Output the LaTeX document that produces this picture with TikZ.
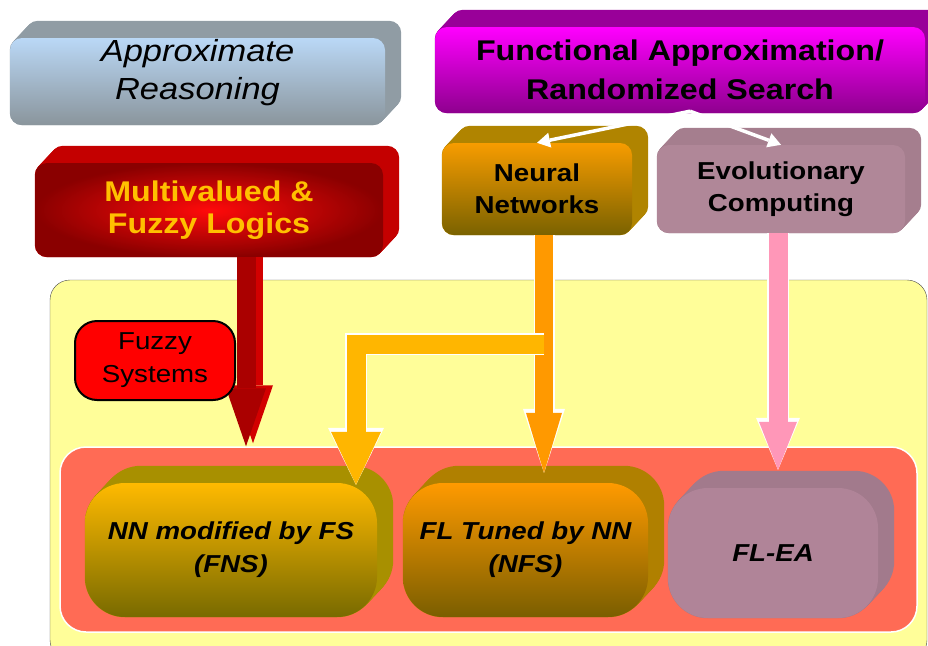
\documentclass[tikz,border=0pt]{standalone}
\usepackage{fontspec}
\setmainfont{Liberation Sans}[FakeStretch=1.13]
\usetikzlibrary{arrows.meta,calc}

% face and side colours
\definecolor{arTop}{HTML}{BAD8F6}
\definecolor{arBot}{HTML}{8A959C}
\definecolor{arExt}{HTML}{909CA4}
\definecolor{mvIn}{HTML}{FF0A0A}
\definecolor{mvOut}{HTML}{8A0000}
\definecolor{mvExt}{HTML}{C40000}
\definecolor{mvText}{HTML}{FFC000}
\definecolor{faTop}{HTML}{FF00FF}
\definecolor{faBot}{HTML}{8E008E}
\definecolor{faExt}{HTML}{990099}
\definecolor{nnTop}{HTML}{F79C00}
\definecolor{nnBot}{HTML}{7A6200}
\definecolor{nnExt}{HTML}{B08400}
\definecolor{ecFace}{HTML}{B08798}
\definecolor{ecExt}{HTML}{A57E8E}
\definecolor{hybYellow}{HTML}{FFFE99}
\definecolor{hybSalmon}{HTML}{FF6B55}
\definecolor{fnsTop}{HTML}{FFBA00}
\definecolor{fnsBot}{HTML}{786A00}
\definecolor{fnsExt}{HTML}{A89000}
\definecolor{nfsTop}{HTML}{FF9A00}
\definecolor{nfsBot}{HTML}{7A5E00}
\definecolor{nfsExt}{HTML}{B08000}
\definecolor{eaFace}{HTML}{B08498}
\definecolor{eaExt}{HTML}{A27A8C}
\definecolor{redArrow}{HTML}{AA0000}
\definecolor{redSide}{HTML}{D20000}
\definecolor{nnArrow}{HTML}{FF9900}
\definecolor{fsArrow}{HTML}{FFB600}
\definecolor{eaArrow}{HTML}{FF97B8}

\pgfdeclarelayer{bg}
\pgfdeclarelayer{ext}
\pgfsetlayers{bg,ext,main}

% extruded back of a 3D box
\newcommand{\extrude}[3]{%
  \begin{pgfonlayer}{ext}
    \foreach \k in {0,0.0625,...,1}
      \fill[#2, rounded corners=#3] ($(#1.south west)+\k*(16,-17)$) rectangle ($(#1.north east)+\k*(16,-17)$);
  \end{pgfonlayer}}

\tikzset{
  face/.style={inner sep=0pt, align=center, rounded corners=12pt},
  slab/.style={inner sep=0pt, align=center, rounded corners=40pt,
    minimum height=134pt, font=\fontsize{24.5}{33}\selectfont\bfseries\itshape},
  small/.style={font=\fontsize{24.5}{32}\selectfont\bfseries},
  blockarrow/.style n args={4}{draw=#1, line width=#2,
    -{Triangle[width=#3, length=#4, line width=0pt]}},
  thinarrow/.style={draw=white, line width=3.5pt,
    -{Triangle[width=15pt, length=13pt, line width=0pt]}}
}

\begin{document}
\begin{tikzpicture}[x=1pt, y=-1pt]
\useasboundingbox (0,0) rectangle (928,645);

% top row
\node[face, minimum width=375pt, minimum height=87pt, top color=arTop, bottom color=arBot]
  (ar) at (197.5,81.5) {};
\extrude{ar}{arExt}{12pt}
\node[align=center, inner sep=0pt, font=\fontsize{30.5}{38}\selectfont\itshape]
  (artext) at ([yshift=9pt]ar.center) {Approximate\\Reasoning};

\node[face, minimum width=490pt, minimum height=86pt, top color=faTop, bottom color=faBot,
  font=\fontsize{28.5}{39}\selectfont\bfseries] (fa) at (680,70) {Functional Approximation/\\Randomized Search};
\extrude{fa}{faExt}{12pt}

% second row
\node[face, minimum width=348pt, minimum height=94pt, inner color=mvIn, outer color=mvOut,
  text=mvText, font=\fontsize{28.5}{32}\selectfont\bfseries] (mv) at (209,210) {Multivalued \&\\Fuzzy Logics};
\extrude{mv}{mvExt}{12pt}

\node[face, small, minimum width=190pt, minimum height=92pt, top color=nnTop, bottom color=nnBot]
  (nn) at (537,189) {Neural\\Networks};
\extrude{nn}{nnExt}{12pt}

\node[face, small, minimum width=248pt, minimum height=88pt, fill=ecFace]
  (ec) at (781,189) {Evolutionary\\Computing};
\extrude{ec}{ecExt}{12pt}

% hybrid area
\begin{pgfonlayer}{bg}
  \node[draw=black!70, fill=hybYellow, rounded corners=20pt, minimum width=877pt,
    minimum height=380pt] (fusion) at (488.5,470) {};
  \node[draw=white, line width=1.5pt, fill=hybSalmon, rounded corners=26pt, minimum width=857pt,
    minimum height=185pt] (hyb) at (488.5,539.5) {};
\end{pgfonlayer}

\node[slab, minimum width=292pt, top color=fnsTop, bottom color=fnsBot] (fns) at (231,550)
  {NN modified by FS\\(FNS)};
\extrude{fns}{fnsExt}{40pt}

\node[slab, minimum width=245pt, top color=nfsTop, bottom color=nfsBot] (nfs) at (525.5,550)
  {FL Tuned by NN\\(NFS)};
\extrude{nfs}{nfsExt}{40pt}

\node[slab, minimum width=210pt, minimum height=130pt, fill=eaFace] (flea) at (773,553) {FL-EA};
\extrude{flea}{eaExt}{40pt}

% connectors
\coordinate (fasplit) at ($(fa.south)+(10,-2)$);
\draw[thinarrow] (fasplit) -- (nn.north);
\draw[thinarrow] (fasplit) -- (ec.north);

\coordinate (redout) at ($(mv.south)+(37,0)$);
\draw[blockarrow={redSide}{19pt}{40pt}{58pt}] ($(redout)+(7,0)$) -- ($(redout |- hyb.north)+(7,-3)$);
\draw[blockarrow={redArrow}{19pt}{40pt}{58pt}] (redout) -- (redout |- hyb.north);

\coordinate (nnout) at ($(nn.south)+(7,0)$);
\coordinate (nfsin) at ($(nfs.north)+(0,-10)$);
\draw[blockarrow={white}{21pt}{42pt}{64pt}] (nnout) -- (nnout |- nfsin);
\draw[blockarrow={nnArrow}{18pt}{36pt}{60pt}] (nnout) -- (nnout |- nfsin);

\coordinate (branch) at (356,344);
\coordinate (fnsin) at ($(fns.north)+(0,2)$);
\draw[blockarrow={white}{22pt}{56pt}{57pt}] (nnout |- branch) -- (branch) -- (branch |- fnsin);
\draw[blockarrow={fsArrow}{19pt}{50pt}{53pt}] (nnout |- branch) -- (branch) -- (branch |- fnsin);

\coordinate (ecout) at ($(ec.south)+(-3,0)$);
\coordinate (eain) at ($(flea.north)+(0,-18)$);
\draw[blockarrow={white}{22pt}{44pt}{52pt}] (ecout) -- (ecout |- eain);
\draw[blockarrow={eaArrow}{19pt}{38pt}{48pt}] (ecout) -- (ecout |- eain);

% fuzzy systems tag
\node[draw=black, line width=2pt, fill=red, rounded corners=22pt, minimum width=160pt,
  minimum height=79pt, inner sep=0pt, align=center, font=\fontsize{24.5}{33}\selectfont]
  (fs) at (155,360.5) {Fuzzy\\Systems};

\end{tikzpicture}
\end{document}
